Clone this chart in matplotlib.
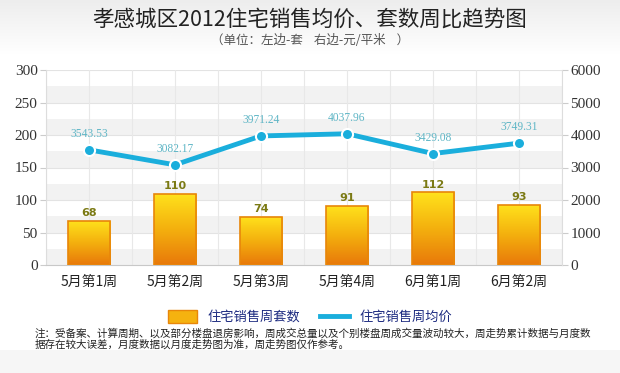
import numpy as np
import matplotlib
matplotlib.use("Agg")
import matplotlib.pyplot as plt
from matplotlib.lines import Line2D
from matplotlib.patches import Patch
from matplotlib.colors import LinearSegmentedColormap

plt.rcParams['font.family'] = ['Noto Sans CJK SC', 'DejaVu Sans']

# data
weeks = ['5月第1周', '5月第2周', '5月第3周', '5月第4周', '6月第1周', '6月第2周']
units = [68, 110, 74, 91, 112, 93]
prices = [3543.53, 3082.17, 3971.24, 4037.96, 3429.08, 3749.31]
left_ticks = [0, 50, 100, 150, 200, 250, 300]
right_ticks = [0, 1000, 2000, 3000, 4000, 5000, 6000]

title = '孝感城区2012住宅销售均价、套数周比趋势图'
subtitle = '（单位：左边-套    右边-元/平米    ）'
note = ('注：受备案、计算周期、以及部分楼盘退房影响，周成交总量以及个别楼盘周成交量波动较大，周走势累计数据与月度数\n'
        '据存在较大误差，月度数据以月度走势图为准，周走势图仅作参考。')

line_color = '#1aaedc'
edge_orange = '#e8860a'

fig = plt.figure(figsize=(6.2, 3.73), dpi=100)
fig.patch.set_facecolor('white')

# header gradient + grey footer
bg = fig.add_axes([0, 0, 1, 1], zorder=-10)
bg.axis('off')
grad = np.ones((373, 1, 3))
top = np.linspace(0.93, 1.0, 55)
grad[:55, 0, :] = top[:, None]
grad[350:, 0, :] = 0.965
bg.imshow(grad, aspect='auto', extent=[0, 1, 0, 1])
bg.set_xlim(0, 1)
bg.set_ylim(0, 1)

ax = fig.add_axes([46 / 620, 1 - 265 / 373, 516 / 620, 195 / 373])
ax.set_facecolor('white')
x = np.arange(len(weeks))

# alternating bands and grid
for lo in range(0, 300, 50):
    ax.axhspan(lo, lo + 25, color='#f2f2f2', zorder=0, lw=0)
for t in left_ticks[1:]:
    ax.axhline(t, color='#e3e3e3', lw=0.8, zorder=0.5)
for xi in np.arange(-0.5, len(weeks), 0.5):
    ax.axvline(xi, color='#e8e8e8', lw=0.8, zorder=0.5)

# bars with gradient
w = 0.49
bars = ax.bar(x, units, width=w, facecolor='none', edgecolor=edge_orange, lw=1.2, zorder=3)
gcol = np.linspace(0, 1, 100)[:, None]
cmap = LinearSegmentedColormap.from_list('yo', ['#e8790a', '#f4b00e', '#ffe21c'])
for b in bars:
    bx, by = b.get_x(), b.get_y()
    im = ax.imshow(gcol, cmap=cmap, aspect='auto', origin='lower',
                   extent=[bx, bx + b.get_width(), by, by + b.get_height()], zorder=2)
    im.set_clip_path(b)
for xi, v in zip(x, units):
    ax.text(xi, v + 4, str(v), ha='center', va='bottom', fontsize=8, fontweight='bold',
            color='#7b7a14', family='DejaVu Sans', zorder=5)
ax.set_xlim(-0.5, len(weeks) - 0.5)
ax.set_ylim(0, 300)

ax.set_xticks(x)
ax.set_xticklabels(weeks, fontsize=10, color='#222222')
ax.set_yticks(left_ticks)
ax.set_yticklabels([str(t) for t in left_ticks], fontsize=11, color='#333333', family='Liberation Serif')
ax.tick_params(axis='x', length=0, pad=7)
ax.tick_params(axis='y', length=4, color='#cccccc', pad=2)
for s in ['top', 'right']:
    ax.spines[s].set_visible(False)
ax.spines['left'].set_color('#dddddd')
ax.spines['bottom'].set_color('#c8c8c8')

ax2 = ax.twinx()
ax2.plot(x, prices, color=line_color, lw=3.5, marker='o', ms=8, mfc=line_color,
         mec='white', mew=1.5, zorder=6, solid_capstyle='round')
for xi, v in zip(x, prices):
    ax2.text(xi, v + 300, f'{v:.2f}', ha='center', va='bottom', fontsize=8.3,
             color='#5fb6c6', family='Liberation Serif')
ax2.set_ylim(0, 6000)
ax2.set_yticks(right_ticks)
ax2.set_yticklabels([str(t) for t in right_ticks], fontsize=11, color='#333333', family='Liberation Serif')
ax2.tick_params(axis='y', length=4, color='#cccccc', pad=2)
for s in ['top', 'left', 'bottom']:
    ax2.spines[s].set_visible(False)
ax2.spines['right'].set_color('#dddddd')

fig.text(0.5, 1 - 20 / 373, title, ha='center', va='center', fontsize=15.5, color='#222222')
fig.text(0.5, 1 - 41 / 373, subtitle, ha='center', va='center', fontsize=9, color='#555555')

handles = [Patch(facecolor='#f5b20f', edgecolor=edge_orange),
           Line2D([0], [0], color=line_color, lw=3.5)]
fig.legend(handles, ['住宅销售周套数', '住宅销售周均价'], loc='center',
           bbox_to_anchor=(0.5, 1 - 317 / 373), ncol=2, frameon=False, fontsize=9.5,
           labelcolor='#1c2a80', handlelength=2.2, handleheight=1.2,
           columnspacing=1.5, handletextpad=0.8, borderpad=0.1)

fig.text(35 / 620, 1 - 339 / 373, note, ha='left', va='center', fontsize=7.6,
         color='#222222', linespacing=1.0)

fig.savefig('out.png', dpi=100)
